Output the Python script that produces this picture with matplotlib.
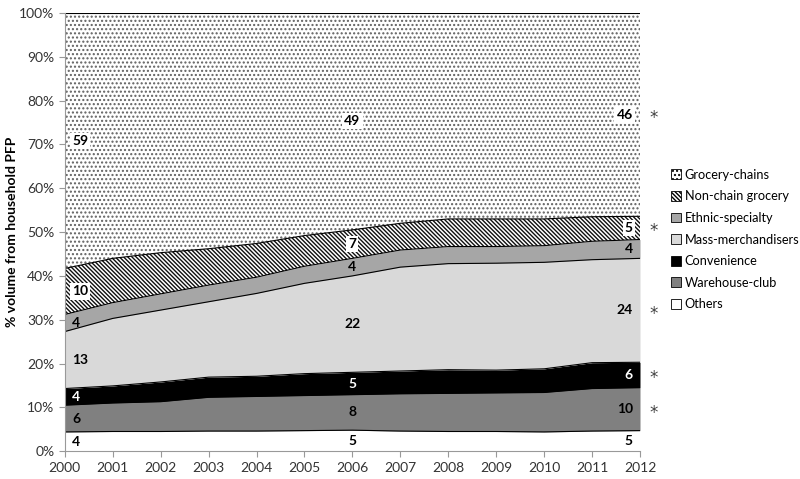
import matplotlib.pyplot as plt
import numpy as np
from matplotlib.patches import Patch

plt.rcParams['font.family'] = ['Lato', 'DejaVu Sans']

years = np.arange(2000, 2013)

# share of volume (%) per channel, bottom layer first
others = [4.4, 4.5, 4.5, 4.6, 4.6, 4.7, 4.8, 4.6, 4.5, 4.5, 4.4, 4.6, 4.7]
warehouse = [6.1, 6.5, 6.8, 7.7, 7.9, 8.0, 8.1, 8.5, 8.7, 8.8, 9.0, 9.7, 9.8]
convenience = [3.8, 3.9, 4.5, 4.6, 4.6, 5.0, 5.1, 5.2, 5.4, 5.2, 5.4, 5.9, 5.8]
mass = [13.0, 15.4, 16.4, 17.2, 18.9, 20.6, 22.0, 23.7, 24.2, 24.4, 24.3, 23.5, 23.7]
ethnic = [3.9, 3.6, 3.7, 3.8, 3.7, 3.9, 4.0, 3.9, 3.9, 3.8, 3.8, 4.2, 4.3]
nonchain = [10.5, 10.1, 9.4, 8.3, 7.7, 7.0, 6.5, 6.1, 6.3, 6.3, 6.1, 5.6, 5.3]
grocery = [58.3, 56.0, 54.7, 53.8, 52.6, 50.8, 49.5, 48.0, 47.0, 47.0, 47.0, 46.5, 46.4]

names = ['Others', 'Warehouse-club', 'Convenience', 'Mass-merchandisers',
         'Ethnic-specialty', 'Non-chain grocery', 'Grocery-chains']

# printed labels at 2000, 2006, 2012 (same layer order)
labels_2000 = ['4', '6', '4', '13', '4', '10', '59']
labels_2006 = ['5', '8', '5', '22', '4', '7', '49']
labels_2012 = ['5', '10', '6', '24', '4', '5', '46']
starred_2012 = [False, True, True, True, False, True, True]

layers = [others, warehouse, convenience, mass, ethnic, nonchain, grocery]
faces = ['white', '#808080', 'black', '#d9d9d9', '#a6a6a6', 'white', 'white']
hatches = [None, None, None, None, None, '\\' * 8, '.' * 4]
hatch_cols = ['black', 'black', 'black', 'black', 'black', '#101010', '#606060']
txt_cols = ['black', 'black', 'white', 'black', 'black', 'black', 'black']
boxed = [False, False, False, False, False, True, True]

plt.rcParams['hatch.linewidth'] = 1.0

fig = plt.figure(figsize=(8.0, 4.79), dpi=100)
ax = fig.add_axes([0.081, 0.058, 0.719, 0.915])

bottom = np.zeros(len(years))
handles = []
for vals, name, fc, h, hc in zip(layers, names, faces, hatches, hatch_cols):
    top = bottom + np.array(vals)
    ax.fill_between(years, bottom, top, facecolor=fc, hatch=h,
                    edgecolor=hc, linewidth=0)
    ax.plot(years, top, color='black', lw=0.8)
    handles.append(Patch(facecolor=fc, hatch=h, edgecolor='black', lw=0.6,
                         label=name))
    bottom = top

# value labels
cum = np.cumsum(np.array(layers), axis=0)
mid = cum - np.array(layers) / 2.
for i in range(len(layers)):
    bb = dict(facecolor='white', edgecolor='none', pad=1.5) if boxed[i] else None
    ax.text(2000.15, mid[i][0], labels_2000[i], ha='left', va='center',
            fontsize=10, fontweight='bold', color=txt_cols[i], bbox=bb)
    ax.text(2006, mid[i][6], labels_2006[i], ha='center', va='center',
            fontsize=10, fontweight='bold', color=txt_cols[i], bbox=bb)
    ax.text(2011.85, mid[i][12], labels_2012[i], ha='right', va='center',
            fontsize=10, fontweight='bold', color=txt_cols[i], bbox=bb)
    if starred_2012[i]:
        ax.text(2012.2, mid[i][12] - 0.8, '*', ha='left', va='center',
                fontsize=12, color='#404040', family='DejaVu Sans',
                clip_on=False)

ax.set_xlim(2000, 2012)
ax.set_ylim(0, 100)
ax.set_xticks(years)
ax.set_yticks(np.arange(0, 101, 10))
ax.set_yticklabels(['{}%'.format(v) for v in range(0, 101, 10)])
ax.tick_params(labelsize=10, colors='#333333', length=4, color='#999999')
ax.set_ylabel('% volume from household PFP', fontsize=10, fontweight='bold')
ax.yaxis.set_label_coords(-0.082, 0.5)
for s in ('top', 'right'):
    ax.spines[s].set_visible(False)
for s in ('left', 'bottom'):
    ax.spines[s].set_color('#999999')

fig.legend(handles=handles[::-1], loc='center left',
           bbox_to_anchor=(0.832, 0.5), frameon=False, fontsize=9.2,
           handlelength=0.8, handleheight=0.8, handletextpad=0.3,
           labelspacing=0.75, borderaxespad=0)

plt.savefig('out.png', dpi=100)
